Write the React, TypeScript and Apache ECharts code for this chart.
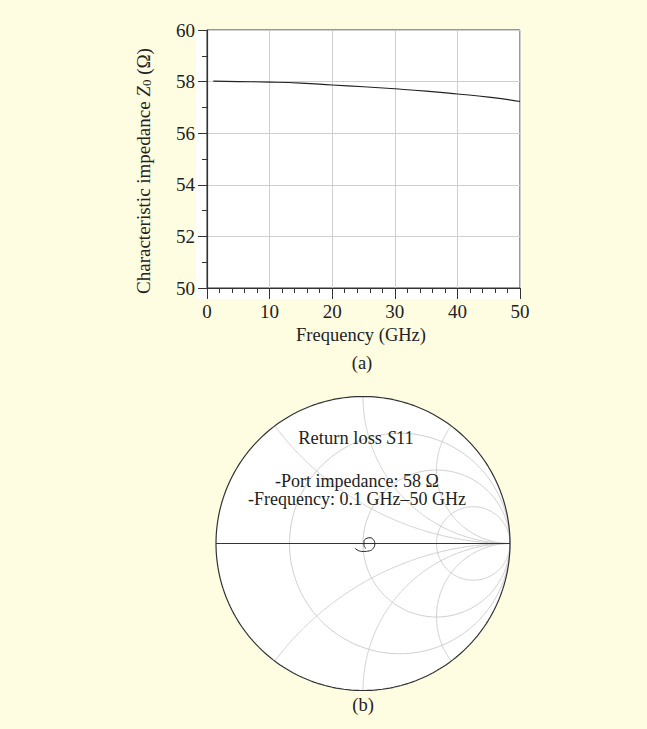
import React, { useEffect, useRef } from "react";
import * as echarts from "echarts";

// ---- data: panel (a) ----
const freqGHz = [1, 5, 10, 15, 20, 25, 30, 35, 40, 45, 50];
const z0Ohm = [58.02, 58.0, 57.98, 57.94, 57.87, 57.8, 57.72, 57.63, 57.52, 57.4, 57.23];

// ---- data: panel (b) Smith chart ----
const resistanceValues = [1 / 3, 1, 3];
const reactanceValues = [0.5, 1, 2, -0.5, -1, -2];
const s11Re = [-0.054, -0.032, 0.002, 0.043, 0.07, 0.08, 0.07, 0.048, 0.02, 0.007, 0.007, 0.02];
const s11Im = [-0.032, -0.048, -0.054, -0.05, -0.032, -0.002, 0.027, 0.039, 0.032, 0.014, -0.014, -0.034];

const FONT = "Liberation Serif";
const GRIDC = "#cfcfcf";
const DARK = "#333333";
const FS = 18;

function rCircle(r: number): number[][] {
  const c = r / (1 + r);
  const R = 1 / (1 + r);
  const pts: number[][] = [];
  for (let i = 0; i <= 240; i++) {
    const a = (i / 240) * Math.PI * 2;
    pts.push([c + R * Math.cos(a), R * Math.sin(a)]);
  }
  return pts;
}

function xArc(x: number): number[][] {
  const pts: number[][] = [];
  const N = 240;
  for (let i = 0; i < N; i++) {
    const r = Math.tan((i / N) * (Math.PI / 2));
    const D = (r + 1) * (r + 1) + x * x;
    pts.push([(r * r + x * x - 1) / D, (2 * x) / D]);
  }
  pts.push([1, 0]);
  return pts;
}

export default function App() {
  const ref = useRef<HTMLDivElement>(null);
  useEffect(() => {
    if (!ref.current) return;
    const chart = echarts.init(ref.current, undefined, { renderer: "svg" });

    const cx = 363, cy = 543.5, R = 147;

    const smithGrid: any[] = [];
    resistanceValues.forEach((r) =>
      smithGrid.push({
        type: "line", xAxisIndex: 1, yAxisIndex: 1, data: rCircle(r),
        showSymbol: false, silent: true, lineStyle: { color: GRIDC, width: 1 }, z: 2,
      })
    );
    reactanceValues.forEach((x) =>
      smithGrid.push({
        type: "line", xAxisIndex: 1, yAxisIndex: 1, data: xArc(x),
        showSymbol: false, silent: true, lineStyle: { color: GRIDC, width: 1 }, z: 2,
      })
    );
    smithGrid.push({
      type: "line", xAxisIndex: 1, yAxisIndex: 1, data: rCircle(0),
      showSymbol: false, silent: true, lineStyle: { color: DARK, width: 1.2 }, z: 3,
    });
    smithGrid.push({
      type: "line", xAxisIndex: 1, yAxisIndex: 1, data: [[-1, 0], [1, 0]],
      showSymbol: false, silent: true, lineStyle: { color: DARK, width: 1.2 }, z: 3,
    });

    chart.setOption({
      animation: false,
      backgroundColor: "#FEFDE2",
      textStyle: { fontFamily: FONT },
      grid: [
        { left: 207, top: 30, width: 313, height: 258, show: true, borderColor: DARK, borderWidth: 1, backgroundColor: "transparent" },
        { left: cx - R, top: cy - R, width: 2 * R, height: 2 * R },
      ],
      xAxis: [
        {
          type: "value", gridIndex: 0, min: 0, max: 50, interval: 10,
          axisLine: { show: true, lineStyle: { color: DARK, width: 1.2 } },
          axisTick: { show: true, length: 11, lineStyle: { color: DARK } },
          minorTick: { show: true, splitNumber: 5, length: 5, lineStyle: { color: DARK } },
          splitLine: { show: true, lineStyle: { color: GRIDC, width: 1 } },
          axisLabel: { fontFamily: FONT, fontSize: 19, color: "#222", margin: 14 },
        },
        { type: "value", gridIndex: 1, min: -1, max: 1, show: false },
      ],
      yAxis: [
        {
          type: "value", gridIndex: 0, min: 50, max: 60, interval: 2,
          axisLine: { show: true, lineStyle: { color: DARK, width: 1.2 } },
          axisTick: { show: true, length: 9, lineStyle: { color: DARK } },
          minorTick: { show: true, splitNumber: 2, length: 5, lineStyle: { color: DARK } },
          splitLine: { show: true, lineStyle: { color: GRIDC, width: 1 } },
          axisLabel: { fontFamily: FONT, fontSize: 19, color: "#222", margin: 12 },
        },
        { type: "value", gridIndex: 1, min: -1, max: 1, show: false },
      ],
      graphic: [
        { type: "rect", shape: { x: 196, y: 30, width: 324, height: 269 }, style: { fill: "#ffffff" }, z: -10, silent: true },
        { type: "circle", shape: { cx, cy, r: R }, style: { fill: "#ffffff" }, z: -10, silent: true },
        {
          type: "text", x: 143, y: 171, rotation: Math.PI / 2, z: 100,
          style: {
            text: "Characteristic impedance {i|Z}{s|0} (Ω)",
            fontFamily: FONT, fontSize: 19, fill: "#222", align: "center", verticalAlign: "middle",
            rich: {
              i: { fontFamily: FONT, fontSize: 19, fontStyle: "italic", fill: "#222" },
              s: { fontFamily: FONT, fontSize: 13, fill: "#222", verticalAlign: "bottom", padding: [7, 0, 0, 0] },
            },
          },
        },
        { type: "text", x: 361, y: 335, z: 100, style: { text: "Frequency (GHz)", fontFamily: FONT, fontSize: 18.5, fill: "#222", align: "center", verticalAlign: "middle" } },
        { type: "text", x: 362, y: 363, z: 100, style: { text: "(a)", fontFamily: FONT, fontSize: 18.5, fill: "#222", align: "center", verticalAlign: "middle" } },
        {
          type: "text", x: 356, y: 438, z: 100,
          style: {
            text: "Return loss {i|S}11", fontFamily: FONT, fontSize: 18.5, fill: "#222", align: "center", verticalAlign: "middle",
            rich: { i: { fontFamily: FONT, fontSize: 18.5, fontStyle: "italic", fill: "#222" } },
          },
        },
        { type: "text", x: 357, y: 480.5, z: 100, style: { text: "-Port impedance: 58 Ω", fontFamily: FONT, fontSize: FS, fill: "#222", align: "center", verticalAlign: "middle" } },
        { type: "text", x: 357, y: 499, z: 100, style: { text: "-Frequency: 0.1 GHz–50 GHz", fontFamily: FONT, fontSize: FS, fill: "#222", align: "center", verticalAlign: "middle" } },
        { type: "text", x: 363, y: 705, z: 100, style: { text: "(b)", fontFamily: FONT, fontSize: 18.5, fill: "#222", align: "center", verticalAlign: "middle" } },
      ],
      series: [
        {
          type: "line", xAxisIndex: 0, yAxisIndex: 0,
          data: freqGHz.map((f, i) => [f, z0Ohm[i]]),
          showSymbol: false, smooth: true, lineStyle: { color: "#222", width: 1.1 }, z: 5,
        },
        ...smithGrid,
        {
          type: "line", xAxisIndex: 1, yAxisIndex: 1,
          data: s11Re.map((re, i) => [re, s11Im[i]]),
          showSymbol: false, smooth: true, lineStyle: { color: "#222", width: 1 }, z: 6,
        },
      ],
    });
    return () => chart.dispose();
  }, []);
  return <div ref={ref} style={{ position: "fixed", left: 0, top: 0, width: 647, height: 729 }} />;
}
